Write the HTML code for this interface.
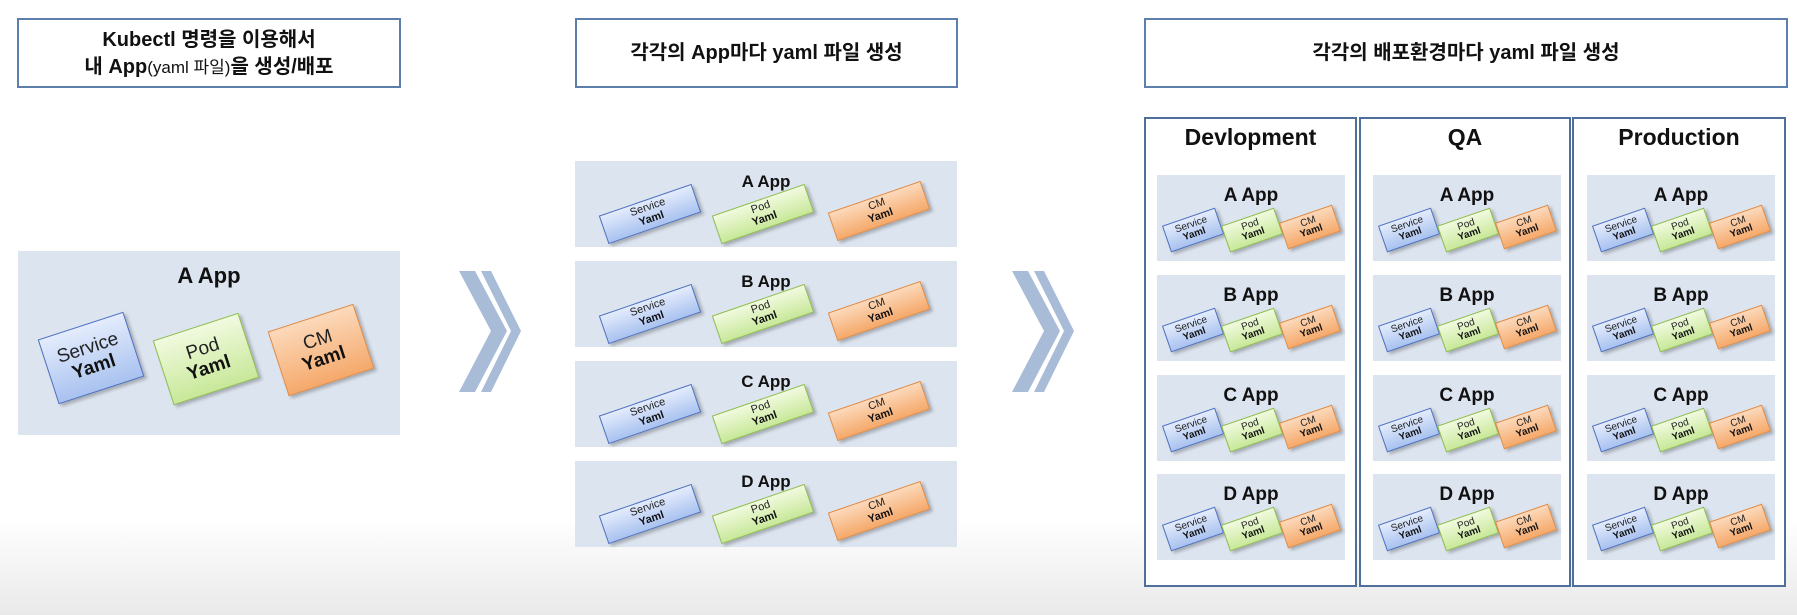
<!DOCTYPE html>
<html><head><meta charset="utf-8">
<style>
*{margin:0;padding:0;box-sizing:border-box}
body{width:1797px;height:615px;position:relative;overflow:hidden;font-family:"Liberation Sans","Noto Sans CJK KR",sans-serif;background:linear-gradient(#fff 0,#fff 520px,#e9e9e9 615px)}
.a{position:absolute}
.tb{position:absolute;border:2px solid #5d7fae;background:#fff;text-align:center;font-weight:bold;font-size:20px;line-height:27px;color:#111}
.box{position:absolute;background:#dce4ef}
.tt{position:absolute;left:0;right:0;text-align:center;font-weight:bold;color:#111}
.d{position:absolute;transform:translate(-50%,-50%) rotate(-19deg);border:1.5px solid;display:flex;flex-direction:column;align-items:center;justify-content:center;line-height:1.05;color:#222;box-shadow:2px 3px 3px rgba(0,0,0,.25)}
.d b{color:#111}
.s{background:linear-gradient(#e4ecfc,#a9c2f0);border-color:#4b70c2}
.p{background:linear-gradient(#f1fadf,#c8e899);border-color:#8fbf4d}
.c{background:linear-gradient(#fcd9bb,#f5a96b);border-color:#e5893d}
.col{position:absolute;top:117px;height:470px;border:2px solid #4e6f9a;background:#fff}
.ch{position:absolute;top:124px;left:0;right:0;text-align:center;font-weight:bold;font-size:23px;color:#111}
.m .d{width:98px;height:30px;font-size:11px}
.e .d{width:56px;height:28px;font-size:10px}
</style></head><body>

<div class="tb" style="left:17px;top:18px;width:384px;height:70px;padding-top:7px">Kubectl 명령을 이용해서<br>내 App<span style="font-weight:normal;font-size:17px">(yaml 파일)</span>을 생성/배포</div>
<div class="tb" style="left:575px;top:18px;width:383px;height:70px;padding-top:20px">각각의 App마다 yaml 파일 생성</div>
<div class="tb" style="left:1144px;top:18px;width:644px;height:70px;padding-top:20px">각각의 배포환경마다 yaml 파일 생성</div>

<!-- big A App -->
<div class="box" style="left:18px;top:251px;width:382px;height:184px">
<div class="tt" style="top:12px;font-size:22px">A App</div>
<div class="d s" style="left:73px;top:107px;width:90px;height:68px;font-size:19px;transform:translate(-50%,-50%) rotate(-18deg)">Service<b>Yaml</b></div>
<div class="d p" style="left:188px;top:108px;width:90px;height:68px;font-size:19px;transform:translate(-50%,-50%) rotate(-18deg)">Pod<b>Yaml</b></div>
<div class="d c" style="left:303px;top:99px;width:90px;height:68px;font-size:19px;transform:translate(-50%,-50%) rotate(-18deg)">CM<b>Yaml</b></div>
</div>

<svg class="a" style="left:0;top:0" width="1797" height="615">
<g fill="#a9bcd7">
<polygon points="459,271 475,271 507,331 475,392 459,392 491,331"/>
<polygon points="481,271 491,271 521,331 491,392 481,392 511,331"/>
<polygon points="1012,271 1028,271 1060,331 1028,392 1012,392 1044,331"/>
<polygon points="1034,271 1044,271 1074,331 1044,392 1034,392 1064,331"/>
</g>
</svg>

<!-- middle -->
<div class="m">
<div class="box" style="left:575px;top:161px;width:382px;height:86px"><div class="tt" style="top:11px;font-size:17px">A App</div>
<div class="d s" style="left:75px;top:53px">Service<b>Yaml</b></div><div class="d p" style="left:188px;top:53px">Pod<b>Yaml</b></div><div class="d c" style="left:304px;top:50px">CM<b>Yaml</b></div></div>
<div class="box" style="left:575px;top:261px;width:382px;height:86px"><div class="tt" style="top:11px;font-size:17px">B App</div>
<div class="d s" style="left:75px;top:53px">Service<b>Yaml</b></div><div class="d p" style="left:188px;top:53px">Pod<b>Yaml</b></div><div class="d c" style="left:304px;top:50px">CM<b>Yaml</b></div></div>
<div class="box" style="left:575px;top:361px;width:382px;height:86px"><div class="tt" style="top:11px;font-size:17px">C App</div>
<div class="d s" style="left:75px;top:53px">Service<b>Yaml</b></div><div class="d p" style="left:188px;top:53px">Pod<b>Yaml</b></div><div class="d c" style="left:304px;top:50px">CM<b>Yaml</b></div></div>
<div class="box" style="left:575px;top:461px;width:382px;height:86px"><div class="tt" style="top:11px;font-size:17px">D App</div>
<div class="d s" style="left:75px;top:53px">Service<b>Yaml</b></div><div class="d p" style="left:188px;top:53px">Pod<b>Yaml</b></div><div class="d c" style="left:304px;top:50px">CM<b>Yaml</b></div></div>
</div>

<!-- env columns -->
<div class="col" style="left:1144px;width:213px"></div>
<div class="col" style="left:1359px;width:212px"></div>
<div class="col" style="left:1572px;width:214px"></div>
<div class="a" style="left:1144px;top:0;width:213px;height:1px"><div class="ch">Devlopment</div></div>
<div class="a" style="left:1359px;top:0;width:212px;height:1px"><div class="ch">QA</div></div>
<div class="a" style="left:1572px;top:0;width:214px;height:1px"><div class="ch">Production</div></div>

<div class="e">
<!-- Dev -->
<div class="box" style="left:1157px;top:175px;width:188px;height:86px"><div class="tt" style="top:10px;font-size:19px">A App</div><div class="d s" style="left:36px;top:55px">Service<b>Yaml</b></div><div class="d p" style="left:95px;top:55px">Pod<b>Yaml</b></div><div class="d c" style="left:153px;top:52px">CM<b>Yaml</b></div></div>
<div class="box" style="left:1157px;top:275px;width:188px;height:86px"><div class="tt" style="top:10px;font-size:19px">B App</div><div class="d s" style="left:36px;top:55px">Service<b>Yaml</b></div><div class="d p" style="left:95px;top:55px">Pod<b>Yaml</b></div><div class="d c" style="left:153px;top:52px">CM<b>Yaml</b></div></div>
<div class="box" style="left:1157px;top:375px;width:188px;height:86px"><div class="tt" style="top:10px;font-size:19px">C App</div><div class="d s" style="left:36px;top:55px">Service<b>Yaml</b></div><div class="d p" style="left:95px;top:55px">Pod<b>Yaml</b></div><div class="d c" style="left:153px;top:52px">CM<b>Yaml</b></div></div>
<div class="box" style="left:1157px;top:474px;width:188px;height:86px"><div class="tt" style="top:10px;font-size:19px">D App</div><div class="d s" style="left:36px;top:55px">Service<b>Yaml</b></div><div class="d p" style="left:95px;top:55px">Pod<b>Yaml</b></div><div class="d c" style="left:153px;top:52px">CM<b>Yaml</b></div></div>
<!-- QA -->
<div class="box" style="left:1373px;top:175px;width:188px;height:86px"><div class="tt" style="top:10px;font-size:19px">A App</div><div class="d s" style="left:36px;top:55px">Service<b>Yaml</b></div><div class="d p" style="left:95px;top:55px">Pod<b>Yaml</b></div><div class="d c" style="left:153px;top:52px">CM<b>Yaml</b></div></div>
<div class="box" style="left:1373px;top:275px;width:188px;height:86px"><div class="tt" style="top:10px;font-size:19px">B App</div><div class="d s" style="left:36px;top:55px">Service<b>Yaml</b></div><div class="d p" style="left:95px;top:55px">Pod<b>Yaml</b></div><div class="d c" style="left:153px;top:52px">CM<b>Yaml</b></div></div>
<div class="box" style="left:1373px;top:375px;width:188px;height:86px"><div class="tt" style="top:10px;font-size:19px">C App</div><div class="d s" style="left:36px;top:55px">Service<b>Yaml</b></div><div class="d p" style="left:95px;top:55px">Pod<b>Yaml</b></div><div class="d c" style="left:153px;top:52px">CM<b>Yaml</b></div></div>
<div class="box" style="left:1373px;top:474px;width:188px;height:86px"><div class="tt" style="top:10px;font-size:19px">D App</div><div class="d s" style="left:36px;top:55px">Service<b>Yaml</b></div><div class="d p" style="left:95px;top:55px">Pod<b>Yaml</b></div><div class="d c" style="left:153px;top:52px">CM<b>Yaml</b></div></div>
<!-- Prod -->
<div class="box" style="left:1587px;top:175px;width:188px;height:86px"><div class="tt" style="top:10px;font-size:19px">A App</div><div class="d s" style="left:36px;top:55px">Service<b>Yaml</b></div><div class="d p" style="left:95px;top:55px">Pod<b>Yaml</b></div><div class="d c" style="left:153px;top:52px">CM<b>Yaml</b></div></div>
<div class="box" style="left:1587px;top:275px;width:188px;height:86px"><div class="tt" style="top:10px;font-size:19px">B App</div><div class="d s" style="left:36px;top:55px">Service<b>Yaml</b></div><div class="d p" style="left:95px;top:55px">Pod<b>Yaml</b></div><div class="d c" style="left:153px;top:52px">CM<b>Yaml</b></div></div>
<div class="box" style="left:1587px;top:375px;width:188px;height:86px"><div class="tt" style="top:10px;font-size:19px">C App</div><div class="d s" style="left:36px;top:55px">Service<b>Yaml</b></div><div class="d p" style="left:95px;top:55px">Pod<b>Yaml</b></div><div class="d c" style="left:153px;top:52px">CM<b>Yaml</b></div></div>
<div class="box" style="left:1587px;top:474px;width:188px;height:86px"><div class="tt" style="top:10px;font-size:19px">D App</div><div class="d s" style="left:36px;top:55px">Service<b>Yaml</b></div><div class="d p" style="left:95px;top:55px">Pod<b>Yaml</b></div><div class="d c" style="left:153px;top:52px">CM<b>Yaml</b></div></div>
</div>
</body></html>
